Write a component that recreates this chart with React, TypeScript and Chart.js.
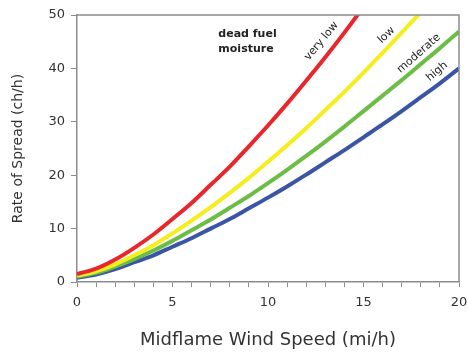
import React, { useEffect, useRef } from "react";
import { Chart, registerables } from "chart.js";

Chart.register(...registerables);

// Midflame wind speed (mi/h)
const windSpeed = [0, 1, 2, 3, 4, 5, 6, 7, 8, 9, 10, 11, 12, 13, 14, 15, 16, 17, 18, 19, 20];

// Rate of spread (ch/h) by dead fuel moisture
const veryLow = [1.5, 2.5, 4.2, 6.4, 8.9, 11.8, 14.8, 18.2, 21.6, 25.4, 29.3, 33.4, 37.7, 42.1, 46.7, 51.5];
const low = [1.2, 2.0, 3.3, 5.0, 6.9, 9.1, 11.5, 14.0, 16.7, 19.5, 22.5, 25.6, 28.8, 32.2, 35.6, 39.2, 42.9, 46.7, 50.5];
const moderate = [1.0, 1.7, 2.9, 4.3, 5.9, 7.7, 9.7, 11.7, 13.9, 16.1, 18.5, 21.0, 23.6, 26.3, 29.1, 32.0, 34.9, 37.8, 40.8, 43.8, 46.9];
const high = [0.8, 1.4, 2.4, 3.7, 5.0, 6.6, 8.2, 10.0, 11.8, 13.8, 15.8, 17.9, 20.1, 22.4, 24.7, 27.1, 29.5, 32.0, 34.6, 37.2, 40.0];

const seriesNames = ["very low", "low", "moderate", "high"];
const seriesValues = [veryLow, low, moderate, high];
const seriesColors = ["#e8262b", "#f6ee1c", "#6cbd45", "#3a55a6"];

const legendTitle = ["dead fuel", "moisture"];

const yTitle = "Rate of Spread (ch/h)";
const xTitle = "Midflame Wind Speed (mi/h)";

// label anchors in data coordinates, with rotation in degrees
const labelAnchors = [
  { x: 12.8, y: 45.1, rot: -50 },
  { x: 16.2, y: 46.2, rot: -44 },
  { x: 17.9, y: 42.8, rot: -41 },
  { x: 18.85, y: 39.4, rot: -40 },
];

const FONT = "'DejaVu Sans', Arial, sans-serif";

const annotatePlugin = {
  id: "annotate",
  afterDatasetsDraw(chart: any) {
    const { ctx, chartArea, scales } = chart;
    const xs = scales.x;
    const ys = scales.y;
    ctx.save();
    // frame
    ctx.strokeStyle = "#8c8c8c";
    ctx.lineWidth = 1.5;
    ctx.beginPath();
    ctx.moveTo(chartArea.left, chartArea.top);
    ctx.lineTo(chartArea.right, chartArea.top);
    ctx.lineTo(chartArea.right, chartArea.bottom);
    ctx.stroke();
    // legend title
    ctx.fillStyle = "#222";
    ctx.font = "bold 11px " + FONT;
    ctx.textAlign = "left";
    ctx.textBaseline = "middle";
    ctx.fillText(legendTitle[0], xs.getPixelForValue(7.4), ys.getPixelForValue(46.4));
    ctx.fillText(legendTitle[1], xs.getPixelForValue(7.4), ys.getPixelForValue(43.7));
    // series labels
    ctx.font = "11px " + FONT;
    ctx.textAlign = "center";
    seriesNames.forEach((name, i) => {
      const a = labelAnchors[i];
      ctx.save();
      ctx.translate(xs.getPixelForValue(a.x), ys.getPixelForValue(a.y));
      ctx.rotate((a.rot * Math.PI) / 180);
      ctx.fillText(name, 0, 0);
      ctx.restore();
    });
    ctx.restore();
  },
};

export default function App() {
  const ref = useRef<HTMLCanvasElement>(null);
  useEffect(() => {
    if (!ref.current) return;
    const chart = new Chart(ref.current, {
      type: "line",
      data: {
        datasets: seriesValues.map((vals, i) => ({
          label: seriesNames[i],
          data: vals.map((v, j) => ({ x: windSpeed[j], y: v })),
          borderColor: seriesColors[i],
          backgroundColor: seriesColors[i],
          borderWidth: 4,
          pointRadius: 0,
          tension: 0.4,
          cubicInterpolationMode: "monotone" as const,
          fill: false,
        })),
      },
      options: {
        responsive: false,
        animation: false,
        devicePixelRatio: 1,
        layout: { padding: { left: 0, right: 0, top: 15, bottom: 0 } },
        plugins: { legend: { display: false }, tooltip: { enabled: false } },
        scales: {
          x: {
            type: "linear",
            min: 0,
            max: 20,
            ticks: {
              stepSize: 1,
              autoSkip: false,
              maxRotation: 0,
              padding: 8,
              color: "#333",
              font: { family: FONT, size: 13 },
              callback: (v: any) => (Number(v) % 5 === 0 ? String(v) : ""),
            },
            grid: { display: true, drawOnChartArea: false, drawTicks: true, tickLength: 5, color: "#8c8c8c" },
            border: { display: true, color: "#8c8c8c", width: 1.5 },
            title: { display: true, text: xTitle, color: "#333", font: { family: FONT, size: 18 }, padding: { top: 4, bottom: 2 } },
            afterFit: (s: any) => { s.height = 71; s.paddingRight = 9; s.paddingLeft = 0; },
          },
          y: {
            type: "linear",
            min: 0,
            max: 50,
            ticks: {
              stepSize: 10,
              padding: 6,
              color: "#333",
              font: { family: FONT, size: 13 },
            },
            grid: { display: true, drawOnChartArea: false, drawTicks: true, tickLength: 6, color: "#8c8c8c" },
            border: { display: true, color: "#8c8c8c", width: 1.5 },
            title: { display: true, text: yTitle, color: "#333", font: { family: FONT, size: 14 }, padding: { top: 10, bottom: 4 } },
            afterFit: (s: any) => { s.width = 77; },
          },
        },
      },
      plugins: [annotatePlugin],
    } as any);
    return () => chart.destroy();
  }, []);
  return (
    <div style={{ position: "absolute", left: 0, top: 0, width: 468, height: 353, background: "#fff" }}>
      <canvas ref={ref} width={468} height={353} />
    </div>
  );
}
